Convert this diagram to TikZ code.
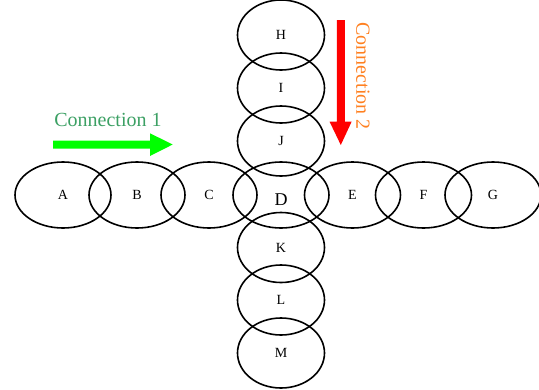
\documentclass[tikz,border=0pt]{standalone}
\usepackage{fontspec}
\setmainfont{Liberation Serif}
\usetikzlibrary{shapes.geometric}
\definecolor{cgreen}{RGB}{60,160,100}
\definecolor{corange}{RGB}{255,128,32}
\definecolor{arrowgreen}{RGB}{0,255,0}
\begin{document}
\begin{tikzpicture}[x=1pt,y=-1pt,
  hoval/.style={ellipse,draw,line width=1.6pt,minimum width=96pt,minimum height=66pt,inner sep=0pt,font=\fontsize{14}{14}\selectfont},
  voval/.style={ellipse,draw,line width=1.6pt,minimum width=87pt,minimum height=70pt,inner sep=0pt,font=\fontsize{14}{14}\selectfont},
  lbl/.style={inner sep=0pt,font=\fontsize{20}{20}\selectfont}]
\useasboundingbox (0,0) rectangle (539,389);
% horizontal row
\node[hoval] (A) at (63,195) {A};
\node[hoval] (B) at (137,195) {B};
\node[hoval] (C) at (209,195) {C};
\node[hoval] (D) at (281,195) {};
\node[hoval] (E) at (352.5,195) {E};
\node[hoval] (F) at (423.5,195) {F};
\node[hoval] (G) at (493,195) {G};
% vertical column
\node[voval] (H) at (281,35) {H};
\node[voval] (I) at (281,88) {I};
\node[voval] (J) at (281,141) {J};
\node[voval] (K) at (281,247.5) {K};
\node[voval] (L) at (281,300) {L};
\node[voval] (M) at (281,353) {M};
\node[inner sep=0pt,font=\fontsize{18}{18}\selectfont] (Dlabel) at (281,199.5) {D};
% connection labels
\node[lbl,text=cgreen] (c1) at (108,120) {Connection 1};
\node[lbl,text=corange,rotate=-90] (c2) at (363,76) {Connection 2};
% block arrows
\fill[arrowgreen] (53,140.5) -- (150,140.5) -- (150,133.3) -- (172.7,144.5) -- (150,156) -- (150,148.5) -- (53,148.5) -- cycle;
\fill[red] (336.8,20) -- (344.8,20) -- (344.8,121.5) -- (351.7,121.5) -- (340.8,145) -- (329.5,121.5) -- (336.8,121.5) -- cycle;
\end{tikzpicture}
\end{document}
